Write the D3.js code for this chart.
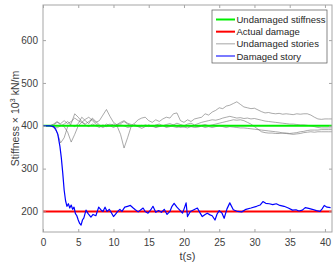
<!DOCTYPE html>
<html>
<head>
<meta charset="utf-8">
<script src="https://cdn.jsdelivr.net/npm/d3@7"></script>
<style>
  body { margin: 0; background: #fff; }
  svg { display: block; font-family: "Liberation Sans", Arial, sans-serif; }
</style>
</head>
<body>
<svg id="chart" width="334" height="269"></svg>
<script>
'use strict';

var xDomain = [0, 41];
var yDomain = [152, 682];
var xTicks = [0, 5, 10, 15, 20, 25, 30, 35, 40];
var yTicks = [200, 300, 400, 500, 600];

var undamagedLevel = 400;
var actualDamage = 200;

var grayTime = [1, 1.5, 2, 2.5, 3, 3.5, 4, 4.5, 5, 5.5, 6, 6.5, 7, 7.5, 8, 8.5, 9, 9.5, 10, 10.5,
  11, 11.5, 12, 12.5, 13, 13.5, 14, 14.5, 15, 15.5, 16, 16.5, 17, 17.5, 18, 18.5, 19, 19.5, 20, 20.5,
  21, 21.5, 22, 22.5, 23, 23.5, 24, 24.5, 25, 25.5, 26, 26.5, 27, 27.5, 28, 28.5, 29, 29.5, 30, 30.5,
  31, 31.5, 32, 32.5, 33, 33.5, 34, 34.5, 35, 35.5, 36, 36.5, 37, 37.5, 38, 38.5, 39, 39.5, 40, 40.5, 41];

var gray1 = [400, 402, 408, 405, 412, 405, 410, 418, 412, 408, 404, 410, 415, 408, 412, 425, 438, 422, 408, 402,
  405, 410, 404, 400, 406, 414, 418, 420, 412, 408, 414, 410, 416, 420, 418, 428, 430, 412, 408, 414,
  410, 416, 418, 420, 428, 425, 432, 436, 442, 440, 446, 448, 452, 456, 450, 444, 442, 440, 441, 437,
  433, 430, 431, 429, 428, 429, 427, 428, 427, 426, 428, 427, 428, 428, 425, 420, 416, 415, 416, 416, 416];

var gray2 = [400, 398, 395, 400, 404, 410, 402, 398, 405, 420, 412, 405, 418, 410, 402, 398, 404, 400, 396, 400,
  380, 348, 372, 398, 402, 400, 398, 402, 400, 398, 402, 404, 400, 403, 405, 402, 406, 403, 400, 404,
  406, 402, 405, 408, 410, 412, 414, 413, 415, 418, 420, 422, 420, 418, 419, 417, 418, 416, 417, 415,
  413, 411, 410, 409, 408, 407, 406, 405, 404, 404, 403, 402, 402, 401, 400, 398, 396, 395, 395, 395, 395];

var gray3 = [400, 396, 385, 360, 372, 398, 405, 428, 420, 410, 402, 398, 404, 400, 396, 402, 398, 400, 404, 398,
  402, 400, 396, 398, 402, 398, 394, 398, 402, 399, 396, 398, 400, 396, 398, 402, 399, 396, 398, 400,
  398, 396, 397, 399, 396, 398, 396, 398, 400, 398, 396, 398, 397, 396, 395, 395, 394, 393, 392, 391,
  390, 389, 388, 387, 386, 385, 383, 382, 381, 380, 381, 382, 384, 385, 386, 385, 386, 386, 386, 386, 386];

var gray4 = [400, 404, 410, 402, 398, 385, 362, 380, 400, 408, 415, 420, 412, 404, 400, 396, 400, 404, 400, 403,
  408, 412, 406, 403, 400, 398, 401, 399, 398, 400, 397, 399, 401, 398, 400, 398, 396, 399, 397, 395,
  398, 400, 398, 401, 403, 400, 402, 404, 406, 408, 410, 412, 414, 413, 414, 412, 408, 404, 398, 392,
  386, 384, 383, 383, 382, 382, 383, 383, 382, 383, 384, 386, 387, 389, 390, 390, 390, 391, 391, 391, 391];

var blueTime = [0, 1.0, 1.5, 1.8, 2.1, 2.4, 2.6, 2.8, 3.0, 3.2, 3.4, 3.6, 3.8, 4.0, 4.2, 4.4, 4.6, 4.8, 5.0, 5.2,
  5.4, 5.6, 5.8, 6.1, 6.4, 6.8, 7.1, 7.5, 7.9, 8.2, 8.5, 8.8, 9.1, 9.4, 9.7, 10.0, 10.3, 10.6, 10.9, 11.2,
  11.6, 12.0, 12.4, 12.8, 13.1, 13.5, 13.8, 14.2, 14.5, 14.9, 15.3, 15.6, 16.0, 16.4, 16.8, 17.2, 17.6, 18.0, 18.3, 18.6,
  19.0, 19.3, 19.8, 20.1, 20.3, 20.5, 20.9, 21.4, 21.9, 22.3, 22.6, 23.0, 23.3, 23.7, 24.0, 24.4, 24.7, 25.0, 25.4, 25.7,
  26.1, 26.5, 27.0, 27.6, 28.2, 28.8, 29.5, 30.3, 30.8, 31.2, 31.6, 32.1, 32.6, 33.1, 33.6, 34.2, 34.8, 35.4, 35.9, 36.3,
  36.8, 37.2, 37.7, 38.2, 38.8, 39.3, 39.6, 39.9, 40.3, 40.8];

var blueVal = [400, 400, 398, 392, 380, 352, 325, 290, 250, 225, 212, 218, 208, 215, 205, 210, 195, 190, 180, 172,
  168, 180, 185, 203, 195, 187, 193, 190, 210, 204, 200, 210, 200, 205, 197, 188, 194, 200, 205, 200,
  210, 212, 214, 208, 204, 199, 203, 208, 200, 196, 204, 212, 198, 202, 198, 205, 193, 200, 212, 219,
  210, 205, 196, 210, 220, 188, 200, 204, 208, 196, 188, 193, 196, 192, 190, 180, 194, 202, 196, 184,
  206, 220, 204, 200, 199, 205, 208, 212, 215, 223, 219, 218, 216, 218, 214, 212, 208, 203, 204, 201,
  203, 209, 207, 205, 202, 200, 206, 214, 210, 209];

var legendLabels = ['Undamaged stiffness', 'Actual damage', 'Undamaged stories', 'Damaged story'];
var legendColors = ['#00ee00', '#ff0000', '#808080', '#7a7aff'];

var margin = { top: 5, right: 2, bottom: 37, left: 43 };
var svgW = 334;
var svgH = 269;
var width = svgW - margin.left - margin.right;
var height = svgH - margin.top - margin.bottom;

var svg = d3.select('#chart');
var chart = svg.append('g')
    .attr('transform', 'translate(' + margin.left + ',' + margin.top + ')');

var xScale = d3.scaleLinear().domain(xDomain).range([0, width]);
var yScale = d3.scaleLinear().domain(yDomain).range([height, 0]);

chart.append('defs').append('clipPath').attr('id', 'clip')
  .append('rect').attr('width', width).attr('height', height);

var plot = chart.append('g').attr('clip-path', 'url(#clip)');

var line = d3.line()
    .x(function (d) { return xScale(d[0]); })
    .y(function (d) { return yScale(d[1]); });

function pairs(ts, vs) {
  return ts.map(function (t, i) { return [t, vs[i]]; });
}

// Undamaged stories
[gray1, gray2, gray3, gray4].forEach(function (vals) {
  plot.append('path')
      .attr('d', line(pairs(grayTime, vals)))
      .attr('fill', 'none')
      .attr('stroke', '#707070')
      .attr('stroke-width', 0.6);
});

// Reference levels
plot.append('path')
    .attr('d', line([[xDomain[0], undamagedLevel], [xDomain[1], undamagedLevel]]))
    .attr('stroke', '#00ee00')
    .attr('stroke-width', 2);

plot.append('path')
    .attr('d', line([[xDomain[0], actualDamage], [xDomain[1], actualDamage]]))
    .attr('stroke', '#ff0000')
    .attr('stroke-width', 2);

// Damaged story
plot.append('path')
    .attr('d', line(pairs(blueTime, blueVal)))
    .attr('fill', 'none')
    .attr('stroke', '#0000ff')
    .attr('stroke-width', 1.2)
    .attr('stroke-linejoin', 'round');

// Axes
var axisColor = '#a6a6a6';
var textColor = '#404040';

function styleAxis(g, noText) {
  g.select('.domain').remove();
  g.selectAll('.tick line').attr('stroke', axisColor);
  g.selectAll('.tick text')
      .attr('fill', textColor)
      .style('font-size', '10px')
      .style('font-family', '"Liberation Sans", Arial, sans-serif');
  if (noText) g.selectAll('.tick text').remove();
}

chart.append('g')
    .attr('transform', 'translate(0,' + height + ')')
    .call(d3.axisBottom(xScale).tickValues(xTicks).tickFormat(d3.format('d')).tickSizeInner(-3).tickPadding(7))
    .call(styleAxis);

chart.append('g')
    .call(d3.axisTop(xScale).tickValues(xTicks).tickSizeInner(-3))
    .call(styleAxis, true);

chart.append('g')
    .call(d3.axisLeft(yScale).tickValues(yTicks).tickFormat(d3.format('d')).tickSizeInner(-3).tickPadding(5))
    .call(styleAxis);

chart.append('g')
    .attr('transform', 'translate(' + width + ',0)')
    .call(d3.axisRight(yScale).tickValues(yTicks).tickSizeInner(-3))
    .call(styleAxis, true);

chart.append('rect')
    .attr('width', width)
    .attr('height', height)
    .attr('fill', 'none')
    .attr('stroke', axisColor)
    .attr('stroke-width', 1);

// Axis labels
svg.append('text')
    .attr('x', margin.left + width / 2)
    .attr('y', 260)
    .attr('text-anchor', 'middle')
    .attr('fill', textColor)
    .style('font-size', '11px')
    .text('t(s)');

var yLabel = svg.append('text')
    .attr('transform', 'translate(19,' + (margin.top + height / 2) + ') rotate(-90)')
    .attr('text-anchor', 'middle')
    .attr('fill', textColor)
    .style('font-size', '10.5px');
yLabel.append('tspan').text('Stiffness \u00d7 10');
yLabel.append('tspan').attr('dy', -4).style('font-size', '7.5px').text('3');
yLabel.append('tspan').attr('dy', 4).text(' kN/m');

// Legend
var legend = svg.append('g').attr('transform', 'translate(212,10)');
legend.append('rect')
    .attr('width', 115)
    .attr('height', 53)
    .attr('fill', '#fff')
    .attr('stroke', '#555')
    .attr('stroke-width', 0.7);

var legendRow = d3.scaleLinear().domain([0, 3]).range([9.5, 46]);

legendLabels.forEach(function (label, i) {
  var y = legendRow(i);
  legend.append('line')
      .attr('x1', 4).attr('x2', 23)
      .attr('y1', y).attr('y2', y)
      .attr('stroke', legendColors[i])
      .attr('stroke-width', i === 2 ? 0.7 : 2);
  legend.append('text')
      .attr('x', 24.5)
      .attr('y', y + 3.5)
      .attr('fill', '#262626')
      .style('font-size', '9.5px')
      .text(label);
});
</script>
</body>
</html>
